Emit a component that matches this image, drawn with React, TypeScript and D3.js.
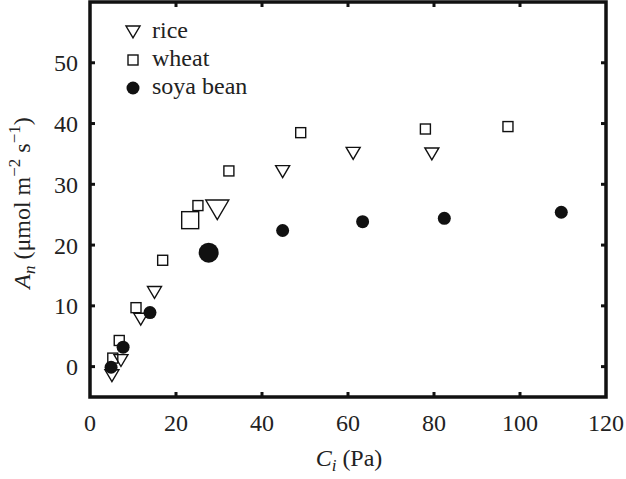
import React from "react";
import * as d3 from "d3";

const riceX = [5.1, 7.2, 11.8, 15.0, 29.6, 44.8, 61.2, 79.5];
const riceY = [-1.5, 1.0, 7.8, 12.2, 25.8, 32.1, 35.1, 35.0];
const riceBig = [false, false, false, false, true, false, false, false];

const wheatX = [5.3, 6.8, 10.7, 16.9, 23.3, 25.1, 32.3, 49.0, 78.0, 97.2];
const wheatY = [1.4, 4.3, 9.7, 17.5, 24.1, 26.5, 32.2, 38.5, 39.1, 39.5];
const wheatBig = [false, false, false, false, true, false, false, false, false, false];

const soyaX = [4.9, 7.7, 13.95, 27.6, 44.8, 63.4, 82.4, 109.6];
const soyaY = [-0.1, 3.2, 8.9, 18.75, 22.4, 23.85, 24.4, 25.4];
const soyaBig = [false, false, false, true, false, false, false, false];

const xTicks = [0, 20, 40, 60, 80, 100, 120];
const yTicks = [0, 10, 20, 30, 40, 50];
const legendLabels = ["rice", "wheat", "soya bean"];

const W = 626;
const H = 479;
const L = 90, R = 606, T = 2, B = 397;
const FONT = "'Liberation Serif', 'DejaVu Serif', serif";

function tri(cx: number, cy: number, w: number) {
  const h = w * 0.85;
  return `M${cx - w / 2},${cy - h / 2}L${cx + w / 2},${cy - h / 2}L${cx},${cy + h / 2}Z`;
}

export default function App() {
  const x = d3.scaleLinear().domain([0, 120]).range([L, R]);
  const y = d3.scaleLinear().domain([-5, 60]).range([B, T]);

  const rice = riceX.map((v, i) => ({ x: v, y: riceY[i], big: riceBig[i] }));
  const wheat = wheatX.map((v, i) => ({ x: v, y: wheatY[i], big: wheatBig[i] }));
  const soya = soyaX.map((v, i) => ({ x: v, y: soyaY[i], big: soyaBig[i] }));

  const tickLen = 5;
  const tickW = 3;

  return (
    <svg
      width={W}
      height={H}
      style={{ position: "absolute", left: 0, top: 0, background: "#fff" }}
      fontFamily={FONT}
    >
      <rect x={0} y={0} width={W} height={H} fill="#fff" />
      {xTicks.slice(1, -1).map((t) => (
        <g key={"xt" + t} stroke="#111" strokeWidth={tickW}>
          <line x1={x(t)} x2={x(t)} y1={B} y2={B - tickLen} />
          <line x1={x(t)} x2={x(t)} y1={T} y2={T + tickLen} />
        </g>
      ))}
      {yTicks.map((t) => (
        <g key={"yt" + t} stroke="#111" strokeWidth={tickW}>
          <line x1={L} x2={L + tickLen} y1={y(t)} y2={y(t)} />
          <line x1={R} x2={R - tickLen} y1={y(t)} y2={y(t)} />
        </g>
      ))}
      <rect x={L} y={T} width={R - L} height={B - T} fill="none" stroke="#111" strokeWidth={3.5} />

      {xTicks.map((t) => (
        <text key={"xl" + t} x={x(t)} y={431} textAnchor="middle" fontSize={24} fill="#222">
          {t}
        </text>
      ))}
      {yTicks.map((t) => (
        <text key={"yl" + t} x={78} y={y(t) + 8.5} textAnchor="end" fontSize={24} fill="#222">
          {t}
        </text>
      ))}

      <text x={349} y={466} textAnchor="middle" fontSize={24} fill="#222">
        <tspan fontStyle="italic">C</tspan>
        <tspan fontStyle="italic" fontSize={17} dy={5}>i</tspan>
        <tspan dy={-5}> (Pa)</tspan>
      </text>
      <text
        transform={`translate(30,203) rotate(-90)`}
        textAnchor="middle"
        fontSize={24}
        fill="#222"
      >
        <tspan fontStyle="italic">A</tspan>
        <tspan fontStyle="italic" fontSize={17} dy={5}>n</tspan>
        <tspan dy={-5}> (μmol m</tspan>
        <tspan fontSize={17} dy={-10}>−2</tspan>
        <tspan dy={10}> s</tspan>
        <tspan fontSize={17} dy={-10}>−1</tspan>
        <tspan dy={10}>)</tspan>
      </text>

      <g fill="none" stroke="#111" strokeWidth={1.4}>
        {rice.map((d, i) => (
          <path key={"r" + i} d={tri(x(d.x), y(d.y), d.big ? 23 : 14)} fill="none" />
        ))}
        {wheat.map((d, i) => {
          const s = d.big ? 17 : 10;
          return (
            <rect key={"w" + i} x={x(d.x) - s / 2} y={y(d.y) - s / 2} width={s} height={s} />
          );
        })}
      </g>
      <g fill="#111">
        {soya.map((d, i) => (
          <circle key={"s" + i} cx={x(d.x)} cy={y(d.y)} r={d.big ? 10 : 6.5} />
        ))}
      </g>

      <g>
        <path d={tri(133, 32, 14)} fill="none" stroke="#111" strokeWidth={1.4} />
        <rect x={128} y={55} width={10} height={10} fill="none" stroke="#111" strokeWidth={1.4} />
        <circle cx={133} cy={88} r={6.5} fill="#111" />
        {legendLabels.map((lab, i) => (
          <text key={lab} x={152} y={38 + i * 28} fontSize={24} fill="#222">
            {lab}
          </text>
        ))}
      </g>
    </svg>
  );
}
